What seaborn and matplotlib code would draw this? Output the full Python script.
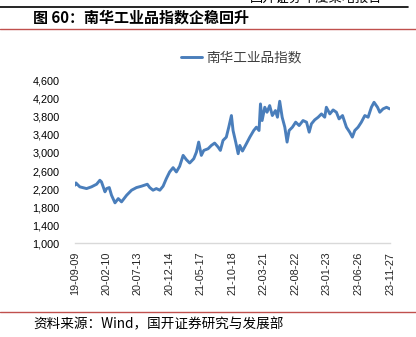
import matplotlib
matplotlib.use("Agg")
import matplotlib.pyplot as plt
import matplotlib.dates as mdates
from matplotlib.lines import Line2D
import seaborn as sns
import pandas as pd

# 南华工业品指数 (approximate readings)
dates = [
    "2019-09-09", "2019-09-14", "2019-10-03", "2019-11-05", "2019-11-29", "2019-12-24",
    "2020-01-09", "2020-01-17", "2020-02-03", "2020-02-11", "2020-02-24", "2020-03-06",
    "2020-03-23", "2020-04-08", "2020-04-24", "2020-05-19", "2020-06-12", "2020-07-06",
    "2020-07-30", "2020-08-28", "2020-09-09", "2020-09-25", "2020-10-11", "2020-10-28",
    "2020-11-13", "2020-11-29", "2020-12-15", "2021-01-01", "2021-01-17", "2021-02-02",
    "2021-02-19", "2021-03-07", "2021-03-23", "2021-04-12", "2021-04-25", "2021-05-06",
    "2021-05-19", "2021-05-31", "2021-06-21", "2021-07-07", "2021-07-23", "2021-08-09",
    "2021-08-20", "2021-09-02", "2021-09-18", "2021-09-30", "2021-10-13", "2021-10-21",
    "2021-11-03", "2021-11-15", "2021-11-23", "2021-12-06", "2021-12-25", "2022-01-11",
    "2022-01-30", "2022-02-12", "2022-02-25", "2022-03-04", "2022-03-12", "2022-03-25",
    "2022-04-05", "2022-04-18", "2022-05-01", "2022-05-16", "2022-05-26", "2022-06-06",
    "2022-06-18", "2022-07-01", "2022-07-12", "2022-07-22", "2022-08-07", "2022-08-23",
    "2022-09-09", "2022-09-28", "2022-10-15", "2022-10-28", "2022-11-08", "2022-11-24",
    "2022-12-11", "2022-12-27", "2023-01-12", "2023-01-20", "2023-02-06", "2023-02-22",
    "2023-03-10", "2023-03-23", "2023-04-09", "2023-04-28", "2023-05-14", "2023-05-27",
    "2023-06-08", "2023-06-24", "2023-07-10", "2023-07-27", "2023-08-12", "2023-08-28",
    "2023-09-10", "2023-09-27", "2023-10-08", "2023-10-24", "2023-11-10", "2023-11-26",
]
values = [
    2286, 2337, 2250, 2212, 2250, 2308,
    2396, 2360, 2140, 2212, 2234, 2065,
    1896, 1990, 1918, 2065, 2176, 2234,
    2264, 2308, 2234, 2176, 2212, 2176,
    2264, 2433, 2580, 2675, 2580, 2705,
    2947, 2851, 2778, 2873, 3020, 3241,
    2947, 3057, 3094, 3167, 3219, 3131,
    3057, 3278, 3351, 3571, 3829, 3498,
    3241, 2984, 3167, 3043, 3204, 3351,
    3498, 3571, 3498, 4086, 3718, 4012,
    3902, 4049, 3829, 3939, 3792, 4145,
    3792, 3571, 3241, 3498, 3571, 3682,
    3608, 3718, 3682, 3461, 3645, 3733,
    3792, 3865, 3792, 4012, 3865, 3953,
    3902, 3755, 3829, 3571, 3461, 3351,
    3498, 3571, 3682, 3829, 3792, 4012,
    4122, 4012, 3902, 3976, 4012, 3976,
]
series_name = "南华工业品指数"
tick_dates = ["2019-09-09", "2020-02-10", "2020-07-13", "2020-12-14", "2021-05-17",
              "2021-10-18", "2022-03-21", "2022-08-22", "2023-01-23", "2023-06-26",
              "2023-11-27"]
y_ticks = [1000, 1400, 1800, 2200, 2600, 3000, 3400, 3800, 4200, 4600]

title = "图 60：南华工业品指数企稳回升"
source = "资料来源：Wind，国开证券研究与发展部"
header = "国开证券年度策略报告"

sns.set_style("white")
plt.rcParams["font.family"] = ["Noto Sans CJK SC", "DejaVu Sans"]

df = pd.DataFrame({"date": pd.to_datetime(dates), "value": values})
line_color = "#4A7EBB"

fig = plt.figure(figsize=(4.16, 3.37), dpi=100)
ax = fig.add_axes([0.180, 0.278, 0.7575, 0.4825])

sns.lineplot(data=df, x="date", y="value", ax=ax, color=line_color, linewidth=2.1)

ax.set_xlim(pd.Timestamp(tick_dates[0]), pd.Timestamp(tick_dates[-1]))
ax.set_ylim(y_ticks[0], y_ticks[-1])
ax.set_yticks(y_ticks)
ax.set_yticklabels([f"{v:,}" for v in y_ticks], fontsize=7.8, color="#000000",
                   family=["Liberation Sans", "DejaVu Sans"])
ax.set_xticks(pd.to_datetime(tick_dates))
ax.xaxis.set_major_formatter(mdates.DateFormatter("%y-%m-%d"))
for lbl in ax.get_xticklabels():
    lbl.set_rotation(90)
    lbl.set_fontsize(7.8)
    lbl.set_family(["Liberation Sans", "DejaVu Sans"])
ax.set_xlabel("")
ax.set_ylabel("")
ax.grid(False)
for side in ["left", "right", "top"]:
    ax.spines[side].set_visible(False)
ax.spines["bottom"].set_color("#d9d9d9")
ax.spines["bottom"].set_linewidth(1.0)
ax.tick_params(axis="x", which="major", direction="out", length=4, width=1.0,
               color="#d9d9d9", pad=2)
ax.tick_params(axis="y", length=0, pad=11)
if ax.get_legend() is not None:
    ax.get_legend().remove()

handle = Line2D([], [], color=line_color, linewidth=2.1)
fig.legend([handle], [series_name], loc="center", bbox_to_anchor=(0.580, 0.828),
           frameon=False, fontsize=9.8, handlelength=1.6, handletextpad=0.3,
           labelcolor="#404040")

# page decorations
fig.add_artist(Line2D([0.0, 0.98], [1 - 6.5 / 337] * 2, color="#000000", linewidth=1.2,
                      transform=fig.transFigure))
fig.add_artist(Line2D([0.0, 1.0], [1 - 29.3 / 337] * 2, color="#C0504D", linewidth=1.0,
                      transform=fig.transFigure))
fig.add_artist(Line2D([0.0, 1.0], [1 - 312.3 / 337] * 2, color="#C0504D", linewidth=1.0,
                      transform=fig.transFigure))
fig.text(0.60, 1 - 5.0 / 337, header, fontsize=9.5, va="bottom", ha="left", color="#000000")
fig.text(33 / 416, 1 - 17.5 / 337, title, fontsize=10.8, fontweight="bold",
         va="center", ha="left", color="#000000")
fig.text(33 / 416, 1 - 324.5 / 337, source, fontsize=9.8, va="center", ha="left",
         color="#000000", family=["Noto Sans CJK SC", "Liberation Serif"])

fig.savefig("out.png", dpi=100)
